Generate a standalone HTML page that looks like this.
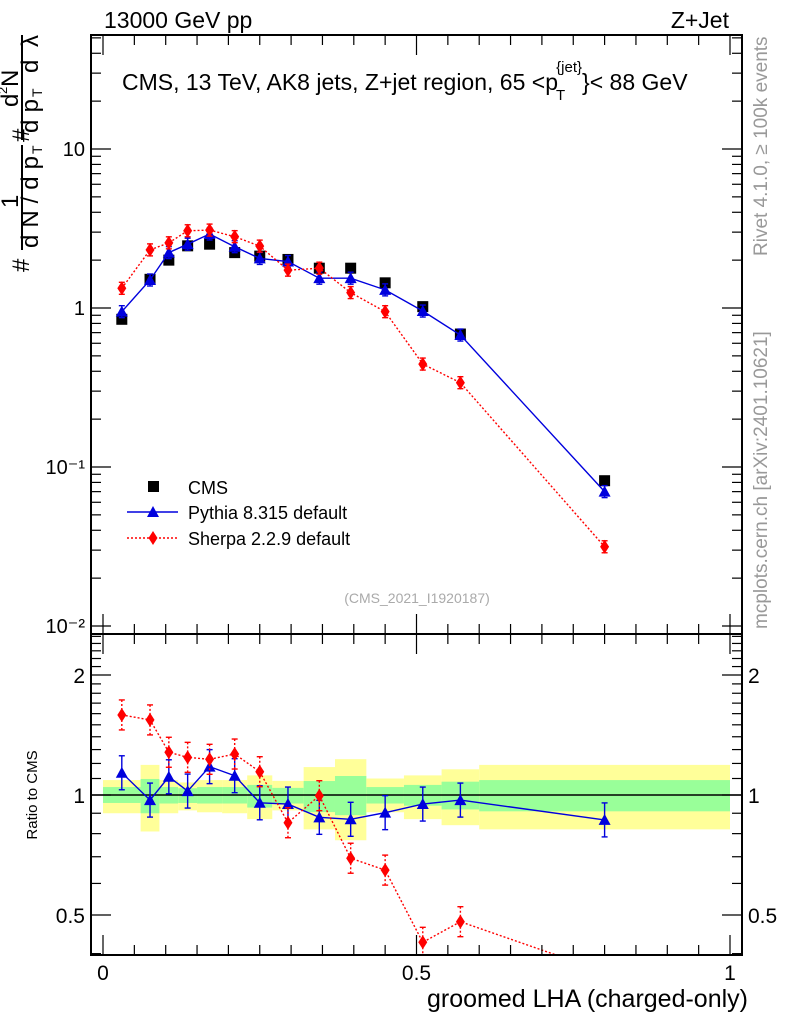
<!DOCTYPE html>
<html><head><meta charset="utf-8"><style>
body{margin:0;background:#fff;}
svg{display:block;font-family:"Liberation Sans",sans-serif;}
</style></head><body>
<svg id="c" width="786" height="1024" viewBox="0 0 786 1024"></svg>
<script>
const binEdges=[0,0.06,0.09,0.12,0.15,0.19,0.23,0.27,0.32,0.37,0.42,0.48,0.54,0.6,1.0];
const xCenters=[0.03,0.075,0.105,0.135,0.17,0.21,0.25,0.295,0.345,0.395,0.45,0.51,0.57,0.8];
const cmsVals=[0.849,1.515,2.0,2.46,2.52,2.23,2.12,2.02,1.78,1.78,1.44,1.02,0.686,0.082];
const pyVals=[0.948,1.50,2.23,2.52,2.92,2.43,2.05,1.96,1.54,1.54,1.30,0.957,0.676,0.070];
const shVals=[1.33,2.32,2.57,3.06,3.09,2.81,2.45,1.73,1.78,1.25,0.948,0.444,0.339,0.0315];
const pyRatio=[1.137,0.971,1.111,1.023,1.178,1.118,0.956,0.949,0.879,0.869,0.903,0.949,0.971,0.866];
const shRatio=[1.588,1.543,1.28,1.243,1.229,1.267,1.144,0.852,0.996,0.694,0.648,0.427,0.481,0.36];
const yelLo=[0.90,0.81,0.90,0.915,0.905,0.90,0.87,0.915,0.82,0.77,0.905,0.87,0.84,0.82];
const yelHi=[1.09,1.19,1.09,1.075,1.09,1.09,1.12,1.085,1.175,1.23,1.10,1.12,1.16,1.19];
const grnLo=[0.955,0.90,0.952,0.955,0.952,0.952,0.93,0.952,0.906,0.89,0.952,0.94,0.92,0.91];
const grnHi=[1.047,1.097,1.047,1.04,1.047,1.047,1.06,1.042,1.084,1.116,1.047,1.06,1.08,1.09];
const yTicksMain=["10\u207B\u00B2","10\u207B\u00B9","1","10"];
const ratioTickLabels=["0.5","1","2"];
const xTickLabels=["0","0.5","1"];

const NS="http://www.w3.org/2000/svg";
const svg=document.getElementById('c');
function el(t,a,p){const e=document.createElementNS(NS,t);for(const k in a)e.setAttribute(k,a[k]);(p||svg).appendChild(e);return e;}
const L=91,R=742,T=35,MB=634,RB=955;
const X=v=>103+v*627;
const Y=v=>308-159*Math.log10(v);
const YR=v=>795-398.6*Math.log10(v);

const bands=el('g',{});


for(let i=0;i<xCenters.length;i++){
  const x0=X(binEdges[i]),x1=X(binEdges[i+1]);
  const r1=el('rect',{x:x0,y:YR(yelHi[i]),width:x1-x0,height:YR(yelLo[i])-YR(yelHi[i]),fill:'#ffff99'},bands);
  
  
  const r2=el('rect',{x:x0,y:YR(grnHi[i]),width:x1-x0,height:YR(grnLo[i])-YR(grnHi[i]),fill:'#99ff99'},bands);
  
  
}
el('line',{x1:L,x2:R,y1:YR(1),y2:YR(1),stroke:'#000','stroke-width':1.5});

const defs=el('defs',{});
const cp=el('clipPath',{id:'rc'},defs);el('rect',{x:L,y:MB,width:R-L,height:RB-MB},cp);
const cm=el('clipPath',{id:'mc'},defs);el('rect',{x:L,y:T,width:R-L,height:MB-T},cm);

function series(vals,Yf,color,dash,marker,name,clip,err){
  const g=el('g',{'clip-path':'url(#'+clip+')'});
  
  
  const pts=vals.map((v,i)=>X(xCenters[i])+','+Yf(v)).join(' ');
  el('polyline',{points:pts,fill:'none',stroke:color,'stroke-width':1.4,'stroke-dasharray':dash||'none'},g);
  vals.forEach((v,i)=>{
    const x=X(xCenters[i]),y=Yf(v);
    const e=err;
    el('line',{x1:x,x2:x,y1:y-e,y2:y+e,stroke:color,'stroke-width':1.4,'stroke-dasharray':dash||'none'},g);
    el('line',{x1:x-3,x2:x+3,y1:y-e,y2:y-e,stroke:color,'stroke-width':1.4},g);
    el('line',{x1:x-3,x2:x+3,y1:y+e,y2:y+e,stroke:color,'stroke-width':1.4},g);
    let m;
    if(marker==='tri') m=el('polygon',{points:`${x},${y-6} ${x-6},${y+5} ${x+6},${y+5}`,fill:color},g);
    else m=el('polygon',{points:`${x},${y-7} ${x-4.5},${y} ${x},${y+7} ${x+4.5},${y}`,fill:color},g);
    
    
  });
}
const cg=el('g',{'clip-path':'url(#mc)'});


cmsVals.forEach((v,i)=>{
  const r=el('rect',{x:X(xCenters[i])-5.5,y:Y(v)-5.5,width:11,height:11,fill:'#000'},cg);
  
  
});
series(pyVals,Y,'#0000dd',null,'tri','pythia-series','mc',6);
series(shVals,Y,'#ff0000','2,2','dia','sherpa-series','mc',6);
series(pyRatio,YR,'#0000dd',null,'tri','pythia-ratio','rc',17);
series(shRatio,YR,'#ff0000','2,2','dia','sherpa-ratio','rc',15);

el('rect',{x:L,y:T,width:R-L,height:MB-T,fill:'none',stroke:'#000','stroke-width':2});
el('rect',{x:L,y:MB,width:R-L,height:RB-MB,fill:'none',stroke:'#000','stroke-width':2});

for(let d=-2;d<=1;d++){
  for(let m=1;m<10;m++){
    const v=m*Math.pow(10,d);const y=Y(v);
    if(y<T||y>MB)continue;
    const len=m===1?20:10;
    el('line',{x1:L,x2:L+len,y1:y,y2:y,stroke:'#000','stroke-width':1.2});
    el('line',{x1:R,x2:R-len,y1:y,y2:y,stroke:'#000','stroke-width':1.2});
  }
}
[0.01,0.1,1,10].forEach((v,i)=>{
  const t=el('text',{x:L-6,y:Y(v)+7,'text-anchor':'end','font-size':20});t.textContent=yTicksMain[i];
  
  
});
for(let v=0.4;v<=2.55;v+=0.1){
  const y=YR(v);if(y<MB||y>RB)continue;
  const maj=Math.abs(v-0.5)<1e-6||Math.abs(v-1)<1e-6||Math.abs(v-2)<1e-6;
  const len=maj?20:10;
  el('line',{x1:L,x2:L+len,y1:y,y2:y,stroke:'#000','stroke-width':1.2});
  el('line',{x1:R,x2:R-len,y1:y,y2:y,stroke:'#000','stroke-width':1.2});
}
[0.5,1,2].forEach((v,i)=>{
  const a=el('text',{x:L-6,y:YR(v)+8,'text-anchor':'end','font-size':21});a.textContent=ratioTickLabels[i];
  
  
  const b=el('text',{x:R+6,y:YR(v)+8,'font-size':21});b.textContent=ratioTickLabels[i];
  
  
});
for(let k=0;k<=20;k++){
  const x=X(k*0.05);const len=k%10===0?20:10;
  el('line',{x1:x,x2:x,y1:RB,y2:RB-len,stroke:'#000','stroke-width':1.2});
  el('line',{x1:x,x2:x,y1:MB,y2:MB+len,stroke:'#000','stroke-width':1.2});
  el('line',{x1:x,x2:x,y1:MB,y2:MB-len,stroke:'#000','stroke-width':1.2});
  el('line',{x1:x,x2:x,y1:T,y2:T+len,stroke:'#000','stroke-width':1.2});
}
[0,0.5,1].forEach((v,i)=>{
  const t=el('text',{x:X(v),y:980,'text-anchor':'middle','font-size':21});t.textContent=xTickLabels[i];
  
  
});
</script>
<svg width="786" height="1024" style="position:absolute;left:0;top:0;font-family:'Liberation Sans',sans-serif">
<text x="104" y="28" font-size="23">13000 GeV pp</text>
<text x="729" y="28" font-size="23" text-anchor="end">Z+Jet</text>
<text x="122" y="90" font-size="23">CMS, 13 TeV, AK8 jets, Z+jet region, 65 &lt;p<tspan dx="-2" dy="10" font-size="15">T</tspan><tspan dx="-9" dy="-28" font-size="15">{jet}</tspan><tspan dy="18">}&lt; 88 GeV</tspan></text>
<text transform="translate(767,256) rotate(-90)" font-size="19" fill="#999">Rivet 4.1.0, ≥ 100k events</text>
<text transform="translate(767,629) rotate(-90)" font-size="19" fill="#999">mcplots.cern.ch [arXiv:2401.10621]</text>
<text x="417" y="603" font-size="14" fill="#aaa" text-anchor="middle">(CMS_2021_I1920187)</text>
<g transform="rotate(-90)" font-size="24">
<text x="-272" y="29">#</text>
<line x1="-250" y1="22" x2="-145" y2="22" stroke="#000" stroke-width="2"/>
<text x="-208" y="18">1</text>
<text x="-248" y="38" textLength="92" lengthAdjust="spacing">d N / d p</text>
<text x="-154" y="42" font-size="14">T</text>
<text x="-142" y="29">#</text>
<line x1="-140" y1="22" x2="-35" y2="22" stroke="#000" stroke-width="2"/>
<text x="-107" y="18">d</text><text x="-94" y="7" font-size="13">2</text><text x="-87" y="18">N</text>
<text x="-133" y="38" textLength="34" lengthAdjust="spacing">d p</text>
<text x="-97" y="42" font-size="14">T</text>
<text x="-73" y="38" textLength="38" lengthAdjust="spacing">d λ</text>
</g>
<text transform="translate(37,795) rotate(-90)" font-size="15" text-anchor="middle">Ratio to CMS</text>
<text x="748" y="1007" font-size="25" text-anchor="end">groomed LHA (charged-only)</text>
<g>
<rect x="148" y="481" width="11" height="11" fill="#000"/>
<text x="188" y="494" font-size="18">CMS</text>
<line x1="127" x2="178" y1="512" y2="512" stroke="#0000dd" stroke-width="1.4"/>
<polygon points="153,506 147,517 159,517" fill="#0000dd"/>
<text x="188" y="519" font-size="18">Pythia 8.315 default</text>
<line x1="127" x2="178" y1="538" y2="538" stroke="#ff0000" stroke-width="1.4" stroke-dasharray="2,2"/>
<polygon points="153,531 148.5,538 153,545 157.5,538" fill="#ff0000"/>
<text x="188" y="545" font-size="18">Sherpa 2.2.9 default</text>
</g>
</svg>
</body></html>
